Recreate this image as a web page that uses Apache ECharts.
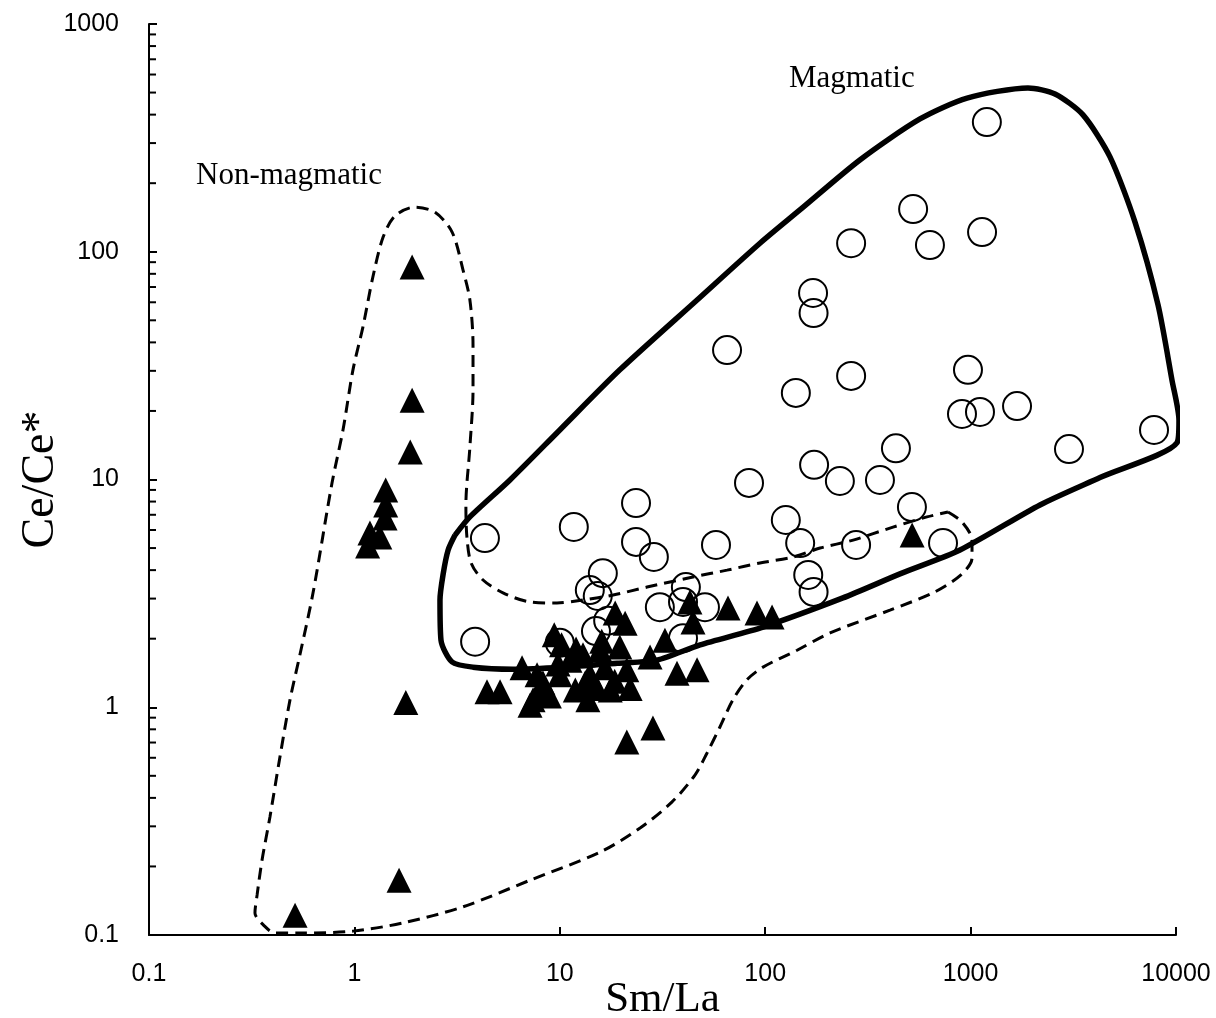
<!DOCTYPE html>
<html><head><meta charset="utf-8">
<script src="https://cdn.jsdelivr.net/npm/echarts@6/dist/echarts.min.js"></script>
<style>html,body{margin:0;padding:0;background:#fff}#c{width:1216px;height:1018px}</style>
</head><body><div id="c"></div>
<script>
// ---- tick labels ----
const xTickLabels = [0.1, 1, 10, 100, 1000, 10000];
const yTickLabels = [0.1, 1, 10, 100, 1000];
const yMinorTicks = [0.2,0.3,0.4,0.5,0.6,0.7,0.8,0.9,
  2,3,4,5,6,7,8,9, 20,30,40,50,60,70,80,90, 200,300,400,500,600,700,800,900];

// ---- open circles (Sm/La, Ce/Ce*) ----
const circleSmLa = [1200,525,262,634,1137,171,172,65.2,141,262,971,908,1111,1683,7816,3013,433,173,231,362,83.4,23.5,11.7,126,518,4.32,23.5,28.7,57.6,148,277,734,16.2,162,172,14.0,15.3,41.1,30.7,50.9,39.8,3.87,15.0,10.0,39.8,17.2];
const circleCe   = [371,154,109,107,122,65.9,53.8,37.0,24.0,28.5,30.3,19.4,19.8,21.0,16.5,13.6,13.7,11.6,9.85,9.95,9.66,7.88,6.19,6.64,7.57,5.53,5.32,4.57,5.16,5.26,5.16,5.26,3.88,3.81,3.21,3.27,3.08,3.37,2.75,2.75,2.90,1.94,2.16,1.92,2.01,2.4];

// ---- filled triangles (Sm/La, Ce/Ce*) ----
const triSmLa = [1.91,1.91,1.87,1.42,1.42,1.41,1.19,1.33,1.16,1.78,1.65,0.514,
  9.4,18.6,43.0,44.5,65.9,91.2,108,32.5,27.5,37.2,46.6,21.2,28.4,
  4.42,5.12,6.55,7.16,7.41,8.28,12.97,19.6,15.2,21.2,10.0,11.9,14.0,16.6,8.38,11.2,15.7,13.7,17.6,10.2,22.0,7.75,20.8,519,
  12.0,16.0,9.8,13.3,18.5,8.9];
const triCe   = [85.7,22.3,13.2,8.99,7.73,6.78,5.82,5.59,5.11,1.05,0.174,0.122,
  2.08,2.59,2.90,2.37,2.73,2.59,2.49,1.97,1.66,1.41,1.46,0.704,0.811,
  1.17,1.17,1.49,1.02,1.08,1.28,1.70,1.84,1.21,1.46,1.39,1.19,1.39,1.49,1.19,1.61,1.78,1.08,1.19,1.88,1.21,1.39,2.34,5.70,
  1.80,1.95,1.55,1.28,1.30,1.12];

// ---- Magmatic field (solid) ----
const magFieldSmLa = [3.09,3.65,5.72,10.0,19.6,46.6,94.3,148,289,567,961,1903,2576,3526,4771,6316,8176,9561,10340,10110,4266,2177,888,453,239,97.6,48.2,29.7,19.0,10.4,5.92,3.78,2.99,2.64,2.61,2.70,2.86,3.09];
const magFieldCe   = [5.70,6.85,9.95,16.5,30.3,61.4,109,153,253,383,473,524,493,399,261,135,58.4,27.3,18.2,14.5,10.2,7.73,4.90,3.85,3.02,2.25,1.88,1.61,1.56,1.50,1.47,1.50,1.58,1.97,2.96,3.81,4.90,5.70];

// ---- Non-magmatic field (dashed) ----
const nonFieldSmLa = [776,908,1016,1016,908,671,405,207,143,97.6,81.5,69.7,60.2,52.1,45.5,35.2,24.6,15.7,7.16,3.38,1.72,0.984,0.543,0.411,0.363,0.328,0.336,0.355,0.388,0.434,0.486,0.543,0.629,0.778,0.880,0.984,1.10,1.23,1.38,1.58,1.97,2.47,2.99,3.38,3.65,3.78,3.78,3.65,3.49,3.53,3.70,4.23,5.29,7.16,9.69,12.97,18.2,26.6,44.5,65.2,94.3,137,185,268,419,613,776];
const nonFieldCe   = [7.20,6.51,5.42,4.52,3.85,3.21,2.67,2.12,1.78,1.50,1.32,1.08,0.819,0.630,0.504,0.384,0.295,0.231,0.174,0.133,0.113,0.104,0.102,0.102,0.110,0.125,0.150,0.213,0.330,0.605,1.08,1.70,3.18,9.65,16.5,30.3,46.7,77.5,116,144,157,149,122,83.1,61.4,38.9,24.7,13.9,7.73,5.59,4.30,3.62,3.18,2.90,2.87,2.96,3.11,3.37,3.73,4.00,4.30,4.57,5.00,5.42,6.18,6.85,7.20];

const zip = (a, b) => a.map((v, i) => [v, b[i]]);
const fmt = (list) => (v) => {
  const t = list.find(t => Math.abs(Math.log10(t) - Math.log10(v)) < 1e-6);
  return t === undefined ? '' : String(t);
};
const tickFont = { fontFamily: 'Liberation Sans', fontSize: 25, color: '#000' };
const serif = 'Liberation Serif';

const chart = echarts.init(document.getElementById('c'), null, { renderer: 'canvas' });
chart.setOption({
  animation: false,
  backgroundColor: '#fff',
  grid: { left: 149, right: 40, top: 24, bottom: 83, containLabel: false, outerBoundsMode: 'none' },
  xAxis: {
    type: 'log', logBase: 10, min: 0.1, max: 10000,
    name: 'Sm/La', nameLocation: 'middle', nameGap: 43, nameMoveOverlap: false,
    nameTextStyle: { fontFamily: serif, fontSize: 43, color: '#000' },
    axisLine: { show: true, lineStyle: { color: '#000', width: 2 } },
    axisTick: { show: true, inside: true, length: 8, lineStyle: { color: '#000', width: 2 } },
    axisLabel: { ...tickFont, margin: 27, formatter: fmt(xTickLabels) },
    splitLine: { show: false }, minorTick: { show: false }
  },
  yAxis: {
    type: 'log', logBase: 10, min: 0.1, max: 1000,
    name: 'Ce/Ce*', nameLocation: 'middle', nameGap: 85, nameRotate: 90, nameMoveOverlap: false,
    nameTextStyle: { fontFamily: serif, fontSize: 46, color: '#000' },
    axisLine: { show: true, lineStyle: { color: '#000', width: 2 } },
    axisTick: { show: true, inside: true, length: 8, lineStyle: { color: '#000', width: 2 } },
    axisLabel: { ...tickFont, margin: 30, formatter: fmt(yTickLabels) },
    splitLine: { show: false }, minorTick: { show: false }
  },
  graphic: [
    { type: 'text', left: 789, top: 63, style: { text: 'Magmatic', font: '31px "Liberation Serif"', fill: '#000' } },
    { type: 'text', left: 196, top: 160, style: { text: 'Non-magmatic', font: '31px "Liberation Serif"', fill: '#000' } }
  ],
  series: [
    {
      type: 'custom', silent: true, clip: false,
      data: yMinorTicks.map(v => [0.1, v]),
      renderItem: (params, api) => {
        const p = api.coord([api.value(0), api.value(1)]);
        return { type: 'line', shape: { x1: p[0], y1: p[1], x2: p[0] + 7, y2: p[1] },
          style: { stroke: '#000', lineWidth: 2 } };
      }
    },
    {
      type: 'line', data: zip(magFieldSmLa, magFieldCe), symbol: 'none', smooth: 0.25,
      lineStyle: { color: '#000', width: 5.5 }, silent: true, z: 2
    },
    {
      type: 'line', data: zip(nonFieldSmLa, nonFieldCe), symbol: 'none', smooth: 0.3,
      lineStyle: { color: '#000', width: 3, type: [12, 7] }, silent: true, z: 2
    },
    {
      type: 'scatter', data: zip(circleSmLa, circleCe), symbol: 'circle', symbolSize: 28,
      itemStyle: { color: 'rgba(0,0,0,0)', borderColor: '#000', borderWidth: 2, opacity: 1 }, z: 3
    },
    {
      type: 'scatter', data: zip(triSmLa, triCe), symbol: 'triangle', symbolSize: 25,
      itemStyle: { color: '#000', opacity: 1 }, z: 4
    }
  ]
});
</script>
</body></html>
